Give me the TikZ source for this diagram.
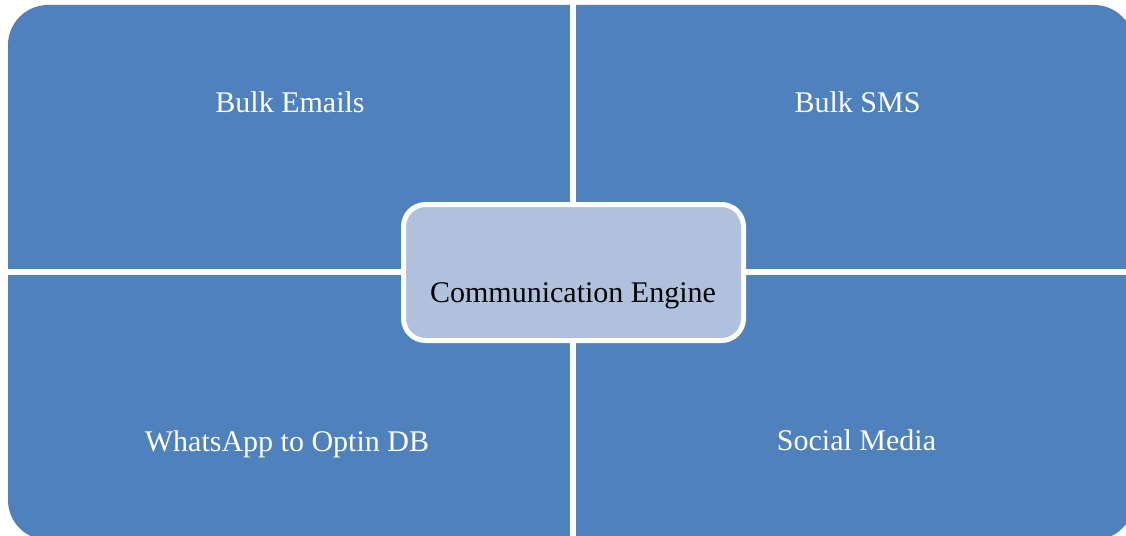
\documentclass[tikz,border=0pt]{standalone}
\usepackage{fontspec}
\setmainfont{Liberation Serif}
\definecolor{quadblue}{RGB}{79,129,189}
\definecolor{centerfill}{RGB}{176,193,221}
\tikzset{
  quadtext/.style={text=white, font=\fontsize{22.5pt}{27pt}\selectfont, anchor=base, inner sep=0pt},
  centertext/.style={text=black, font=\fontsize{22.5pt}{27pt}\selectfont, anchor=base, inner sep=0pt},
  centerbox/.style={draw=white, line width=3.75pt, fill=centerfill, rounded corners=16.5pt, inner sep=0pt}
}
\begin{document}
\begin{tikzpicture}[x=0.75pt,y=-0.75pt]
\useasboundingbox (0,0) rectangle (1126,535);
% outer rounded rectangle split into quadrants
\fill[quadblue, rounded corners=30pt] (8,5) rectangle (1134,540);
\fill[white] (570,0) rectangle (576,540);
\fill[white] (0,269) rectangle (1134,275);
% centre box
\node[centerbox, minimum width=255pt, minimum height=102pt] (eng) at (573.5,272.5) {};
\node[centertext] (englabel) at (573,302) {Communication Engine};
% quadrant labels
\node[quadtext] (emails) at (290,112) {Bulk Emails};
\node[quadtext] (sms) at (857.5,112) {Bulk SMS};
\node[quadtext] (whatsapp) at (287,451) {WhatsApp to Optin DB};
\node[quadtext] (social) at (856.5,450) {Social Media};
\end{tikzpicture}
\end{document}
